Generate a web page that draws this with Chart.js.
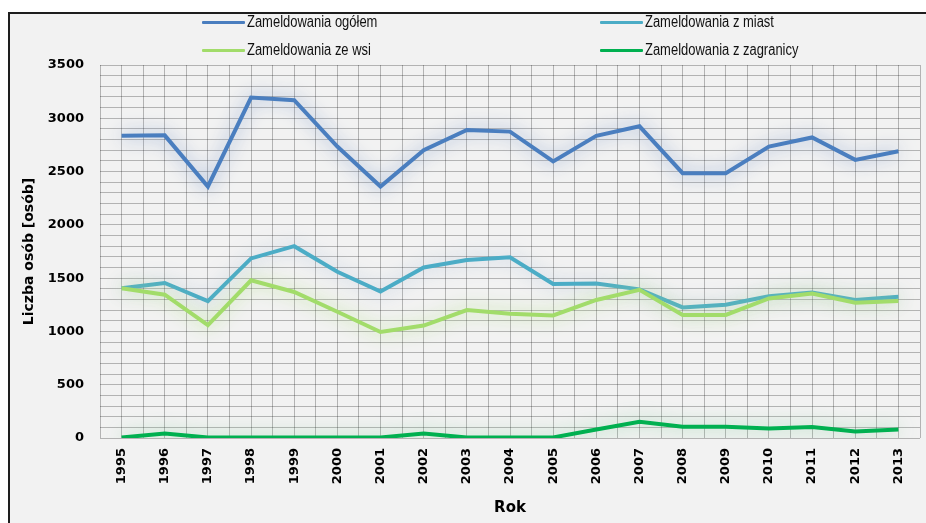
<!DOCTYPE html>
<html>
<head>
<meta charset="utf-8">
<script src="https://cdn.jsdelivr.net/npm/chart.js@4"></script>
<style>
    html, body { margin: 0; padding: 0; background: #fff; }
    body { width: 926px; height: 523px; position: relative; overflow: hidden; }
    #frame {
        position: absolute; left: 8px; top: 12px; width: 930px; height: 520px;
        background: #f2f2f2; border-left: 2px solid #1e1e1e; border-top: 2px solid #1e1e1e;
    }
    #wrap { position: absolute; left: 0; top: 0; width: 926px; height: 523px; }
    .leg { position: absolute; height: 20px; white-space: nowrap; }
    .leg i { position: absolute; left: 0; top: 9px; width: 43px; height: 3px; border-radius: 1px; }
    .leg span {
        position: absolute; left: 45px; top: 0; line-height: 20px;
        font-family: "Liberation Sans", sans-serif; font-size: 16px; color: #111;
        transform: scaleX(0.81); transform-origin: left center;
    }
</style>
</head>
<body>
<div id="frame"></div>
<div id="wrap"><canvas id="chart" width="926" height="523"></canvas></div>
<div id="legend"></div>
<script>
const years = ['1995','1996','1997','1998','1999','2000','2001','2002','2003','2004','2005','2006','2007','2008','2009','2010','2011','2012','2013'];
const ogolem    = [2835, 2840, 2360, 3195, 3170, 2735, 2360, 2700, 2890, 2875, 2595, 2835, 2925, 2485, 2485, 2735, 2820, 2610, 2690];
const zMiast    = [1405, 1455, 1285, 1685, 1800, 1560, 1375, 1600, 1670, 1695, 1445, 1450, 1395, 1225, 1250, 1330, 1365, 1295, 1325];
const zeWsi     = [1405, 1345, 1060, 1480, 1370, 1185, 995, 1055, 1200, 1165, 1150, 1295, 1390, 1155, 1155, 1310, 1355, 1270, 1285];
const zZagranicy = [5, 42, 5, 5, 5, 5, 5, 42, 5, 5, 5, 80, 152, 106, 106, 90, 104, 60, 80];
const seriesNames = ['Zameldowania ogółem', 'Zameldowania z miast', 'Zameldowania ze wsi', 'Zameldowania z zagranicy'];
const colors = ['#4a7ebf', '#4bacc6', '#a2dc6a', '#00b050'];
const glowColors = ['rgba(120,150,200,0.9)', 'rgba(150,175,210,0.7)', 'rgba(175,225,130,0.9)', 'rgba(110,200,140,0.75)'];

// legend (2 x 2)
const legPos = [[202, 12], [600, 12], [202, 40], [600, 40]];
const legend = document.getElementById('legend');
seriesNames.forEach((name, i) => {
    const d = document.createElement('div');
    d.className = 'leg';
    d.style.left = legPos[i][0] + 'px';
    d.style.top = legPos[i][1] + 'px';
    d.innerHTML = '<i style="background:' + colors[i] + '"></i><span>' + name + '</span>';
    legend.appendChild(d);
});

const glow = {
    id: 'glow',
    beforeDatasetDraw(chart, args) {
        const ctx = chart.ctx;
        ctx.save();
        ctx.shadowColor = glowColors[args.index];
        ctx.shadowBlur = 18;
    },
    afterDatasetDraw(chart) {
        chart.ctx.restore();
    }
};

const gridColor = 'rgba(0,0,0,0.26)';
const tickFont = { family: 'DejaVu Sans', weight: 'bold', size: 13 };

new Chart(document.getElementById('chart').getContext('2d'), {
    type: 'line',
    data: {
        labels: years,
        datasets: [ogolem, zMiast, zeWsi, zZagranicy].map((d, i) => ({
            label: seriesNames[i],
            data: d,
            borderColor: colors[i],
            backgroundColor: colors[i],
            borderWidth: 4,
            pointRadius: 0,
            tension: 0,
            order: 4 - i
        }))
    },
    options: {
        responsive: false,
        animation: false,
        layout: { padding: { left: 0, top: 65, right: 6, bottom: 0 } },
        plugins: { legend: { display: false }, tooltip: { enabled: false } },
        scales: {
            x: {
                offset: true,
                grid: { color: gridColor, offset: false, drawTicks: false },
                border: { display: false },
                ticks: { color: '#000', font: tickFont, maxRotation: 90, minRotation: 90, padding: 10, autoSkip: false },
                title: { display: true, text: 'Rok', color: '#000', font: { family: 'DejaVu Sans', weight: 'bold', size: 15 }, padding: { bottom: 6 } },
                afterFit(scale) { scale.height = 85; }
            },
            x2: {
                type: 'category',
                position: 'bottom',
                offset: true,
                grid: { color: gridColor, offset: true, drawTicks: false },
                border: { display: false },
                ticks: { display: false },
                afterFit(scale) { scale.height = 0; }
            },
            y: {
                min: 0,
                max: 3500,
                grid: { color: gridColor, drawTicks: false },
                border: { display: false },
                ticks: {
                    stepSize: 100,
                    autoSkip: false,
                    color: '#000',
                    font: tickFont,
                    padding: 16,
                    callback: v => (v % 500 === 0 ? v : '')
                },
                title: { display: true, text: 'Liczba osób [osób]', color: '#000', font: { family: 'DejaVu Sans', weight: 'bold', size: 14 }, padding: { top: 21 } },
                afterFit(scale) { scale.width = 100; }
            }
        }
    },
    plugins: [glow]
});
</script>
</body>
</html>
